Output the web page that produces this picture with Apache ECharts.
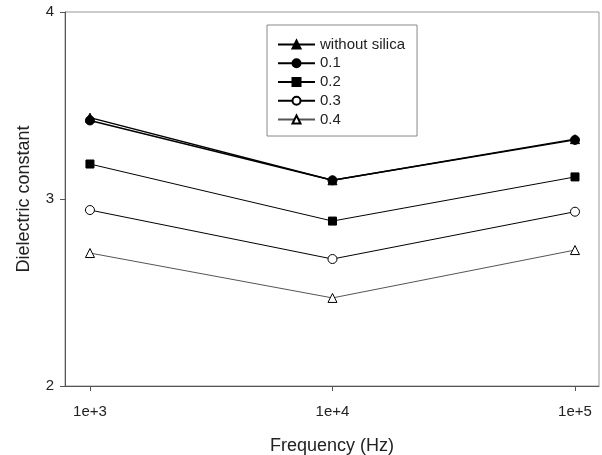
<!DOCTYPE html>
<html>
<head>
<meta charset="utf-8">
<script src="https://cdn.jsdelivr.net/npm/echarts@6/dist/echarts.min.js"></script>
<style>html,body{margin:0;padding:0;background:#fff}#c{width:602px;height:455px}</style>
</head>
<body>
<div id="c"></div>
<script>
var frequencies = [1000, 10000, 100000];
var seriesNames = ['without silica', '0.1', '0.2', '0.3', '0.4'];
var withoutSilica = [3.435, 3.10, 3.32];
var silica01 = [3.42, 3.10, 3.316];
var silica02 = [3.187, 2.882, 3.118];
var silica03 = [2.941, 2.679, 2.932];
var silica04 = [2.711, 2.471, 2.727];
var yTicks = [2, 3, 4];

var chart = echarts.init(document.getElementById('c'), null, {renderer: 'canvas'});
function pts(arr) { return frequencies.map(function (f, i) { return [f, arr[i]]; }); }
var styles = [
  {symbol: 'triangle', size: 9, fill: '#000', line: '#000', w: 1.4},
  {symbol: 'circle', size: 9, fill: '#000', line: '#000', w: 1.4},
  {symbol: 'rect', size: 8, fill: '#000', line: '#000', w: 1},
  {symbol: 'circle', size: 9, fill: '#fff', line: '#000', w: 1},
  {symbol: 'triangle', size: 9, fill: '#fff', line: '#555', w: 1}
];
var allData = [withoutSilica, silica01, silica02, silica03, silica04];
var series = allData.map(function (d, i) {
  var s = styles[i];
  return {
    name: seriesNames[i], type: 'line', data: pts(d),
    symbol: s.symbol, symbolSize: s.size, showAllSymbol: true,
    lineStyle: {color: s.line, width: s.w},
    itemStyle: {color: s.fill, borderColor: '#000', borderWidth: 1},
    z: 10 - i
  };
});
var font = 'Liberation Sans, Arial, sans-serif';
chart.setOption({
  animation: false,
  backgroundColor: '#fff',
  textStyle: {fontFamily: font, color: '#222'},
  grid: {left: 65, right: 3, top: 12, bottom: 69, show: true, borderColor: '#999', borderWidth: 1,
         containLabel: false, outerBoundsMode: 'none'},
  legend: {
    orient: 'vertical', left: 267, top: 25,
    data: seriesNames,
    borderColor: '#888', borderWidth: 1, borderRadius: 0,
    padding: [11, 12, 8, 10],
    itemWidth: 37, itemHeight: 10, itemGap: 1.75,
    textStyle: {fontSize: 15, lineHeight: 17, color: '#222', fontFamily: font}
  },
  xAxis: {
    type: 'log', logBase: 10, min: 789, max: 125600,
    name: 'Frequency (Hz)', nameLocation: 'middle', nameGap: 51,
    nameTextStyle: {fontSize: 18, color: '#222'},
    axisLine: {lineStyle: {color: '#555', width: 1}},
    axisTick: {show: true, length: 5, lineStyle: {color: '#555'}},
    splitLine: {show: false},
    axisLabel: {
      fontSize: 15, color: '#222', margin: 18,
      showMinLabel: false, showMaxLabel: false,
      formatter: function (v) {
        var e = Math.log10(v);
        if (Math.abs(e - Math.round(e)) > 1e-6) return '';
        return '1e+' + Math.round(e);
      }
    }
  },
  yAxis: {
    type: 'value', min: yTicks[0], max: yTicks[yTicks.length - 1], interval: 1,
    name: 'Dielectric constant', nameLocation: 'middle', nameGap: 32, nameRotate: 90,
    nameTextStyle: {fontSize: 18, color: '#222'},
    axisLine: {show: true, lineStyle: {color: '#555', width: 1}},
    axisTick: {show: true, length: 5, lineStyle: {color: '#555'}},
    splitLine: {show: false},
    axisLabel: {fontSize: 15, color: '#222', margin: 11}
  },
  series: series
});
</script>
</body>
</html>
